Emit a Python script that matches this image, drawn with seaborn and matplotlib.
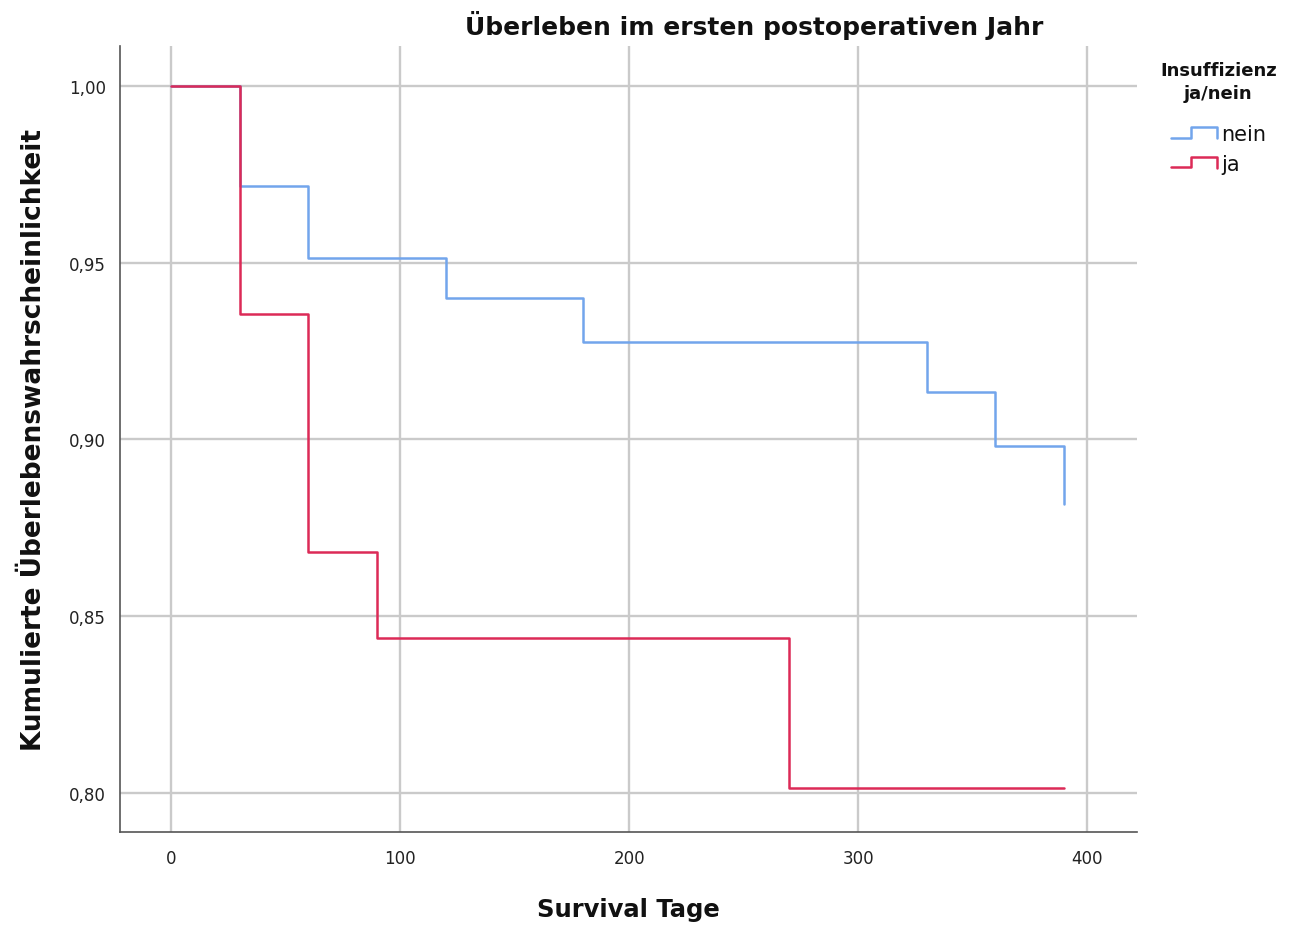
import matplotlib
matplotlib.use("Agg")
import matplotlib.pyplot as plt
import seaborn as sns
import pandas as pd
from matplotlib.legend_handler import HandlerLine2D
from matplotlib.lines import Line2D
from matplotlib.ticker import FuncFormatter

# Data (Kaplan-Meier step points)
nein_days = [0, 30, 60, 120, 180, 330, 360, 390]
nein_surv = [1.0, 0.9717, 0.9513, 0.9400, 0.9276, 0.9134, 0.8982, 0.8818]
ja_days = [0, 30, 60, 90, 270, 390]
ja_surv = [1.0, 0.9355, 0.8682, 0.8438, 0.8014, 0.8014]
groups = ["nein", "ja"]
colors = {"nein": "#72a5ec", "ja": "#dc2a57"}

x_ticks = [0, 100, 200, 300, 400]
y_ticks = [0.80, 0.85, 0.90, 0.95, 1.00]


def steps(days, surv):
    xs, ys = [days[0]], [surv[0]]
    for i in range(1, len(days)):
        xs += [days[i], days[i]]
        ys += [surv[i - 1], surv[i]]
    return xs, ys

nx, ny = steps(nein_days, nein_surv)
jx, jy = steps(ja_days, ja_surv)
df = pd.concat([
    pd.DataFrame({"Tage": nx, "Surv": ny, "Gruppe": "nein"}),
    pd.DataFrame({"Tage": jx, "Surv": jy, "Gruppe": "ja"}),
])

sns.set_theme(style="white")
plt.rcParams["font.family"] = ["DejaVu Sans"]

fig = plt.figure(figsize=(12.92, 9.28), dpi=100)
ax = fig.add_axes([0.0929, 0.1024, 0.7871, 0.847])

ax.grid(True, color="#cacaca", linewidth=1.7)
ax.set_axisbelow(True)

sns.lineplot(data=df, x="Tage", y="Surv", hue="Gruppe",
             hue_order=groups, palette=colors, sort=False, estimator=None,
             linewidth=1.8, ax=ax, legend=False)

ax.set_xlim(-22.3, 421.8)
ax.set_ylim(0.789, 1.0113)
ax.set_xticks(x_ticks)
ax.set_yticks(y_ticks)
ax.yaxis.set_major_formatter(FuncFormatter(lambda v, p: f"{v:.2f}".replace(".", ",")))
ax.tick_params(axis="both", labelsize=12, colors="#222222", length=0)
ax.tick_params(axis="y", pad=10)
ax.tick_params(axis="x", pad=12)
for s in ["top", "right"]:
    ax.spines[s].set_visible(False)
for s in ["left", "bottom"]:
    ax.spines[s].set_color("#555555")
    ax.spines[s].set_linewidth(1.2)

ax.set_xlabel("Survival Tage", fontsize=17.5, fontweight="bold", labelpad=22, color="#111111")
ax.set_ylabel("Kumulierte Überlebenswahrscheinlichkeit", fontsize=19, fontweight="bold",
              labelpad=16, color="#111111")
fig.text(0.584, 0.973, "Überleben im ersten postoperativen Jahr", ha="center", va="center",
         fontsize=18, fontweight="bold", color="#111111")


class StepHandler(HandlerLine2D):
    def create_artists(self, legend, orig_handle, xdescent, ydescent, width, height, fontsize, trans):
        x0, x1 = -xdescent, -xdescent + width
        ym = height / 2 - ydescent
        xs = [x0, x0 + width * 0.45, x0 + width * 0.45, x1, x1]
        ys = [ym - height * 0.3, ym - height * 0.3, ym + height * 0.4, ym + height * 0.4, ym - height * 0.35]
        line = Line2D(xs, ys, color=orig_handle.get_color(), linewidth=1.8)
        line.set_transform(trans)
        return [line]

handles = [Line2D([], [], color=colors[g]) for g in groups]
leg = fig.legend(handles, groups, loc="upper center", bbox_to_anchor=(0.943, 0.953),
                 frameon=False, title="Insuffizienz\nja/nein", fontsize=15,
                 handler_map={Line2D: StepHandler()}, handlelength=2.2, handletextpad=0.2,
                 labelspacing=0.45, alignment="center",
                 title_fontproperties={"weight": "bold", "size": 13})
for t in leg.get_texts():
    t.set_color("#111111")
leg.get_title().set_color("#111111")
leg.get_title().set_ha("center")
leg.get_title().set_linespacing(1.35)
leg._legend_box.sep = 16

fig.savefig("out.png", dpi=100)
